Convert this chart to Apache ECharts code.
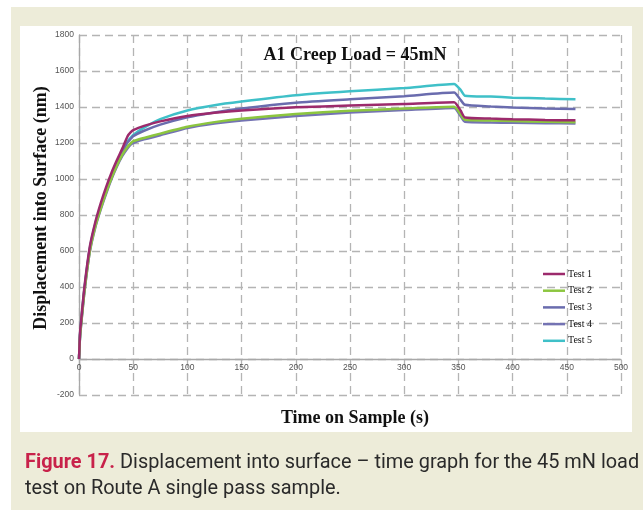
<!DOCTYPE html>
<html>
<head>
<meta charset="utf-8">
<script src="https://cdn.jsdelivr.net/npm/echarts@6/dist/echarts.min.js"></script>
<style>
html,body{margin:0;padding:0;background:#ffffff;}
#chart{width:643px;height:510px;}
</style>
</head>
<body>
<div id="chart"></div>
<script>
// Time on sample (s)
var times = [0,1,2,5,10,15,20,25,30,35,40,45,48,50,60,75,100,125,150,200,250,300,346,352,356,380,400,430,458];
// Displacement into surface (nm)
var test1 = [0,150,215,400,625,760,865,955,1035,1105,1170,1240,1262,1272,1295,1320,1350,1368,1381,1398,1408,1417,1426,1380,1342,1336,1332,1328,1326];
var test2 = [0,130,195,375,600,735,835,925,1005,1075,1135,1180,1200,1210,1228,1252,1290,1316,1335,1361,1379,1391,1402,1360,1329,1325,1322,1318,1315];
var test3 = [0,140,205,385,610,745,845,935,1015,1085,1150,1205,1225,1238,1268,1302,1343,1370,1392,1424,1443,1460,1480,1440,1412,1403,1397,1392,1389];
var test4 = [0,128,190,370,595,730,830,918,1000,1070,1128,1172,1193,1200,1220,1243,1283,1308,1325,1350,1369,1383,1395,1350,1318,1314,1312,1310,1309];
var test5 = [0,140,210,390,615,750,850,940,1020,1090,1155,1210,1232,1245,1285,1333,1381,1410,1430,1465,1487,1505,1528,1495,1463,1458,1452,1447,1443];
var seriesNames = ['Test 1','Test 2','Test 3','Test 4','Test 5'];
var xTicks = [0,50,100,150,200,250,300,350,400,450,500];
var yTicks = [-200,0,200,400,600,800,1000,1200,1400,1600,1800];

var colors = ['#9c2a6c','#8cc63f','#6a6cae','#7473b3','#3fc0c8'];
var allVals = [test1,test2,test3,test4,test5];
var zs = [6,5,3,4,2];

function pairs(v){ return times.map(function(t,i){ return [t, v[i]]; }); }

var chart = echarts.init(document.getElementById('chart'), null, {renderer:'canvas'});
var gridStyle = {color:'#b4b4b4', width:1.3, type:[8,5]};
var option = {
  animation:false,
  backgroundColor:'#ffffff',
  color: colors,
  title:{
    text:'A1 Creep Load = 45mN',
    left:350, top:41, textAlign:'center',
    textStyle:{fontFamily:'Liberation Serif', fontWeight:'bold', fontSize:18, color:'#111'}
  },
  legend:{
    orient:'vertical', left:538, top:263,
    icon:'rect', itemWidth:22, itemHeight:2.5, itemGap:4.7,
    data: seriesNames,
    textStyle:{fontFamily:'Liberation Serif', fontSize:10, color:'#111', lineHeight:12, padding:[0,0,0,-2]}
  },
  grid:{left:79, right:22, top:35, bottom:115, containLabel:false},
  xAxis:{
    type:'value', min:xTicks[0], max:xTicks[xTicks.length-1], interval:50,
    position:'bottom', offset:-36,
    axisLine:{onZero:false, lineStyle:{color:'#a8a8a8', width:1.3}},
    axisTick:{show:false},
    axisLabel:{fontFamily:'Liberation Sans', fontSize:8.5, color:'#555', margin:4,
      formatter:function(v){ return String(v); }},
    splitLine:{show:true, lineStyle:gridStyle}
  },
  yAxis:{
    type:'value', min:yTicks[0], max:yTicks[yTicks.length-1], interval:200,
    axisLine:{show:true, lineStyle:{color:'#a8a8a8', width:1.3}},
    axisTick:{show:false},
    axisLabel:{fontFamily:'Liberation Sans', fontSize:8.5, color:'#555', margin:5,
      formatter:function(v){ return String(v); }},
    splitLine:{show:true, lineStyle:gridStyle}
  },
  graphic:[
    {type:'rect', z:-100, silent:true, shape:{x:11,y:7,width:632,height:503}, style:{fill:'#edecd9'}},
    {type:'rect', z:-99, silent:true, shape:{x:20,y:26,width:612,height:406}, style:{fill:'#ffffff'}},
    {type:'text', x:41, y:208, rotation:Math.PI/2, silent:true,
     style:{text:'Displacement into Surface (nm)', fontFamily:'Liberation Serif', fontWeight:'bold', fontSize:18, fill:'#111', textAlign:'center', textVerticalAlign:'middle'}},
    {type:'text', x:355, y:418, silent:true,
     style:{text:'Time on Sample (s)', fontFamily:'Liberation Serif', fontWeight:'bold', fontSize:18, fill:'#111', textAlign:'center', textVerticalAlign:'middle'}},
    {type:'text', x:25, y:450, silent:true,
     style:{text:'{a|Figure 17.} Displacement into surface \u2013 time graph for the 45 mN load\ntest on Route A single pass sample.',
       fontFamily:'Roboto', fontSize:19.9, fill:'#2a2a2a', lineHeight:26,
       rich:{a:{fontFamily:'Roboto', fontWeight:'bold', fontSize:19.9, fill:'#c8224a', lineHeight:26}}}}
  ],
  series: seriesNames.map(function(n,i){
    return {name:n, type:'line', data:pairs(allVals[i]), showSymbol:false, symbol:'none',
      smooth:0.2, z:zs[i], lineStyle:{width:2.5, color:colors[i]}, itemStyle:{color:colors[i]}};
  })
};
chart.setOption(option);
</script>
</body>
</html>
